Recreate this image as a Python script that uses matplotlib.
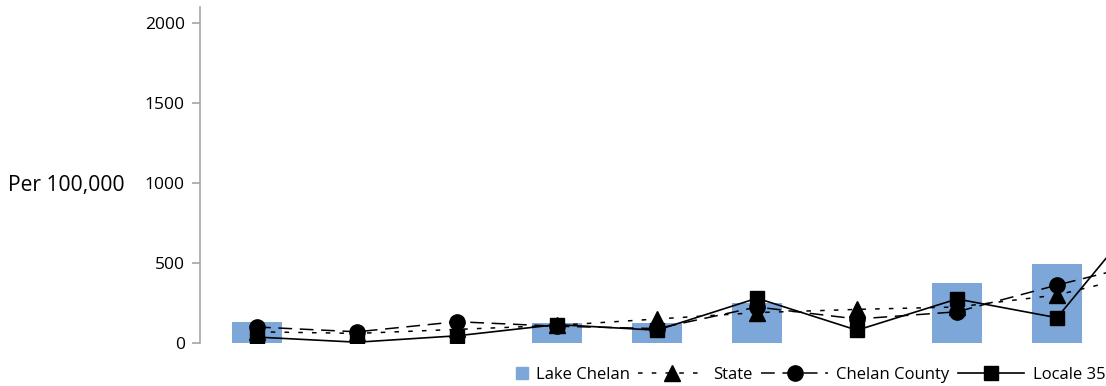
import numpy as np
import matplotlib
matplotlib.use('Agg')
import matplotlib.pyplot as plt
from matplotlib.patches import Rectangle
from matplotlib.legend_handler import HandlerPatch

plt.rcParams['font.family'] = ['Open Sans', 'DejaVu Sans']

# categories (x labels are not shown in the chart)
categories = list(range(10))

# values per 100,000
lake_chelan = [129, np.nan, np.nan, 127, 127, 252, np.nan, 373, 492, np.nan]
state = [70, 60, 85, 110, 150, 190, 210, 225, 300, 450]
chelan_county = [100, 70, 133, 105, 90, 225, 150, 195, 362, 518]
locale_35 = [37, 5, 45, 115, 80, 280, 80, 275, 158, 915]

yticks = [0, 500, 1000, 1500, 2000]
bar_color = '#7da7d9'

fig = plt.figure(figsize=(11.06, 3.86), dpi=100)
ax = fig.add_axes([200 / 1106, 43 / 386, 1007 / 1106, 336 / 386])

x = np.arange(len(categories))

# bars
ax.bar(x, lake_chelan, width=0.5, color=bar_color, zorder=1)

# lines
l1, = ax.plot(x, state, color='black', lw=1.1, dashes=(3, 6), marker='^', ms=11, zorder=3)
l2, = ax.plot(x, chelan_county, color='black', lw=1.1, dashes=(9, 5), marker='o', ms=11, zorder=3)
l3, = ax.plot(x, locale_35, color='black', lw=1.2, marker='s', ms=10, zorder=3)

ax.set_xlim(-0.57, 9.5)
ax.set_ylim(0, 2100)
ax.set_yticks(yticks)
ax.set_yticklabels([str(v) for v in yticks], fontsize=12.5)
ax.set_xticks([])

for s in ['top', 'right', 'bottom']:
    ax.spines[s].set_visible(False)
ax.spines['left'].set_color('#a6a6a6')
ax.spines['left'].set_linewidth(1.2)
ax.tick_params(axis='y', length=6, width=1.2, color='#a6a6a6', pad=5)

fig.text(8 / 1106, 1 - 186 / 386, 'Per 100,000', fontsize=15.2, va='center', ha='left')


def square_patch(legend, orig_handle, xdescent, ydescent, width, height, fontsize):
    s = height * 1.0
    return Rectangle((width - s - xdescent, (height - s) / 2 - ydescent), s, s)


bar_proxy = Rectangle((0, 0), 1, 1, color=bar_color)
fig.legend([bar_proxy, l1, l2, l3], ['Lake Chelan', 'State', 'Chelan County', 'Locale 35'],
           loc='lower right', bbox_to_anchor=(1.013, -0.03), ncol=4, frameon=False,
           fontsize=12, handlelength=4.0, columnspacing=0.5, handletextpad=0.5,
           handler_map={Rectangle: HandlerPatch(patch_func=square_patch)})

plt.savefig('out.png', dpi=100)
